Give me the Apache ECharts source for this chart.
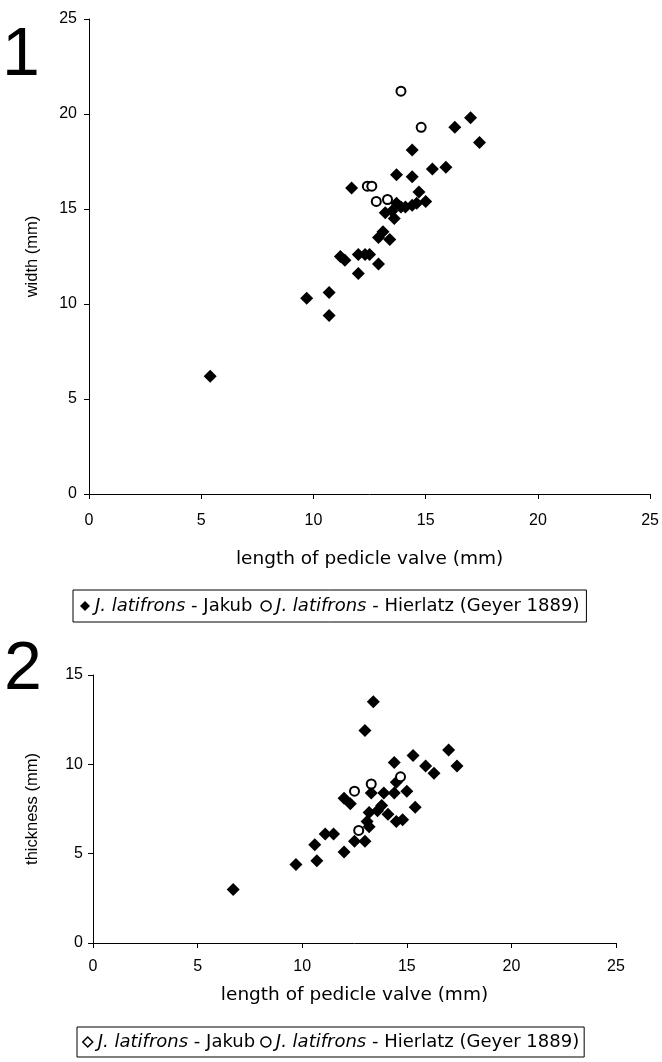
<!DOCTYPE html>
<html>
<head>
<meta charset="utf-8">
<script src="https://cdn.jsdelivr.net/npm/echarts@6/dist/echarts.min.js"></script>
<style>
  html, body { margin: 0; padding: 0; background: #fff; }
  #chart { width: 662px; height: 1062px; }
</style>
</head>
<body>
<div id="chart"></div>
<script>
  // panel 1: length vs width, panel 2: length vs thickness
  const xTicks = [0, 5, 10, 15, 20, 25]
  const widthTicks = [0, 5, 10, 15, 20, 25]
  const thickTicks = [0, 5, 10, 15]

  const jakubWidth = [
    [5.4, 6.2], [9.7, 10.3], [10.7, 10.6], [10.7, 9.4], [11.2, 12.5], [11.4, 12.3],
    [12.0, 11.6], [12.0, 12.6], [12.3, 12.6], [12.5, 12.6], [12.9, 12.1], [11.7, 16.1],
    [12.9, 13.5], [13.1, 13.8], [13.4, 13.4], [13.2, 14.8], [13.5, 14.9], [13.6, 14.5],
    [13.7, 15.3], [13.9, 15.1], [14.1, 15.1], [14.4, 15.2], [14.6, 15.3], [13.7, 16.8],
    [14.4, 16.7], [14.4, 18.1], [14.7, 15.9], [15.0, 15.4], [15.3, 17.1], [15.9, 17.2],
    [16.3, 19.3], [17.0, 19.8], [17.4, 18.5]
  ]
  const hierlatzWidth = [
    [13.9, 21.2], [14.8, 19.3], [12.4, 16.2], [12.6, 16.2], [12.8, 15.4], [13.3, 15.5]
  ]
  const jakubThick = [
    [6.7, 3.0], [9.7, 4.4], [10.7, 4.6], [10.6, 5.5], [11.1, 6.1], [11.5, 6.1],
    [12.0, 5.1], [12.5, 5.7], [13.0, 5.7], [13.2, 6.5], [13.1, 6.8], [13.2, 7.3],
    [13.6, 7.4], [13.8, 7.7], [14.1, 7.2], [14.5, 6.8], [14.8, 6.9], [15.4, 7.6],
    [12.0, 8.1], [12.3, 7.8], [13.3, 8.4], [13.9, 8.4], [14.4, 8.4], [15.0, 8.5],
    [14.5, 9.0], [14.4, 10.1], [15.3, 10.5], [15.9, 9.9], [16.3, 9.5], [17.0, 10.8],
    [17.4, 9.9], [13.0, 11.9], [13.4, 13.5]
  ]
  const hierlatzThick = [
    [12.5, 8.5], [13.3, 8.9], [14.7, 9.3], [12.7, 6.3]
  ]

  const font = "'DejaVu Sans', sans-serif"
  const nameFont = "'Liberation Sans', Arial, sans-serif"

  const chart = echarts.init(document.getElementById('chart'))

  function valueAxis(gridIndex, ticks, extra) {
    return Object.assign({
      type: 'value',
      gridIndex: gridIndex,
      min: ticks[0],
      max: ticks[ticks.length - 1],
      interval: ticks[1] - ticks[0],
      axisLine: { show: true, onZero: false, lineStyle: { color: '#000', width: 1 } },
      axisTick: { show: true, length: 5, lineStyle: { color: '#000' } },
      splitLine: { show: false },
      nameLocation: 'middle'
    }, extra)
  }

  function tickLabel(margin) {
    return { color: '#000', fontSize: 16, fontFamily: nameFont, margin: margin }
  }

  function legendLabel(name) {
    return '{i|J. latifrons}{n| - ' + (name === 'Jakub' ? 'Jakub' : 'Hierlatz (Geyer 1889)') + '}'
  }

  const legendText = {
    color: '#000',
    fontFamily: font,
    rich: {
      i: { fontStyle: 'italic', fontSize: 18, fontFamily: font, color: '#000' },
      n: { fontSize: 18, fontFamily: font, color: '#000' }
    }
  }

  const xName = { color: '#000', fontSize: 18.5, fontFamily: font }
  const yName = { color: '#000', fontSize: 16.5, fontFamily: nameFont }

  const option = {
    animation: false,
    title: [
      { text: '1', left: 2, top: 22, padding: 0, textStyle: { fontSize: 68, fontWeight: 'normal', fontFamily: nameFont, color: '#000' } },
      { text: '2', left: 4, top: 636, padding: 0, textStyle: { fontSize: 68, fontWeight: 'normal', fontFamily: nameFont, color: '#000' } }
    ],
    grid: [
      { left: 89, top: 19, width: 562, height: 475 },
      { left: 93, top: 675, width: 523, height: 268 }
    ],
    xAxis: [
      valueAxis(0, xTicks, { name: 'length of pedicle valve (mm)', nameGap: 56, nameTextStyle: xName, axisLabel: tickLabel(19) }),
      valueAxis(1, xTicks, { name: 'length of pedicle valve (mm)', nameGap: 43, nameTextStyle: xName, axisLabel: tickLabel(16) })
    ],
    yAxis: [
      valueAxis(0, widthTicks, { name: 'width (mm)', nameGap: 48, nameTextStyle: yName, axisLabel: tickLabel(12) }),
      valueAxis(1, thickTicks, { name: 'thickness (mm)', nameGap: 52, nameTextStyle: yName, axisLabel: tickLabel(10) })
    ],
    legend: [
      {
        left: 73, top: 590, orient: 'horizontal',
        padding: [7, 7], itemGap: 8, itemWidth: 10, itemHeight: 10,
        borderColor: '#000', borderWidth: 1, selectedMode: false,
        formatter: legendLabel, textStyle: legendText,
        data: [
          { name: 'Jakub', icon: 'diamond', itemStyle: { color: '#000', borderWidth: 0 } },
          { name: 'Hierlatz', icon: 'circle', itemStyle: { color: '#fff', borderColor: '#000', borderWidth: 1.5 } }
        ]
      },
      {
        left: 77, top: 1027, orient: 'horizontal',
        padding: [6, 5], itemGap: 5, itemWidth: 10, itemHeight: 10,
        borderColor: '#000', borderWidth: 1, selectedMode: false,
        formatter: legendLabel, textStyle: legendText,
        data: [
          { name: 'Jakub', icon: 'diamond', itemStyle: { color: '#fff', borderColor: '#000', borderWidth: 1.5 } },
          { name: 'Hierlatz', icon: 'circle', itemStyle: { color: '#fff', borderColor: '#000', borderWidth: 1.5 } }
        ]
      }
    ],
    series: [
      {
        name: 'Jakub', type: 'scatter', xAxisIndex: 0, yAxisIndex: 0,
        symbol: 'diamond', symbolSize: 13,
        itemStyle: { color: '#000', opacity: 1 },
        data: jakubWidth
      },
      {
        name: 'Hierlatz', type: 'scatter', xAxisIndex: 0, yAxisIndex: 0,
        symbol: 'circle', symbolSize: 9,
        itemStyle: { color: '#fff', borderColor: '#000', borderWidth: 2, opacity: 1 },
        data: hierlatzWidth
      },
      {
        name: 'Jakub', type: 'scatter', xAxisIndex: 1, yAxisIndex: 1,
        symbol: 'diamond', symbolSize: 13,
        itemStyle: { color: '#000', opacity: 1 },
        data: jakubThick
      },
      {
        name: 'Hierlatz', type: 'scatter', xAxisIndex: 1, yAxisIndex: 1,
        symbol: 'circle', symbolSize: 9,
        itemStyle: { color: '#fff', borderColor: '#000', borderWidth: 2, opacity: 1 },
        data: hierlatzThick
      }
    ]
  }

  chart.setOption(option)
</script>
</body>
</html>
